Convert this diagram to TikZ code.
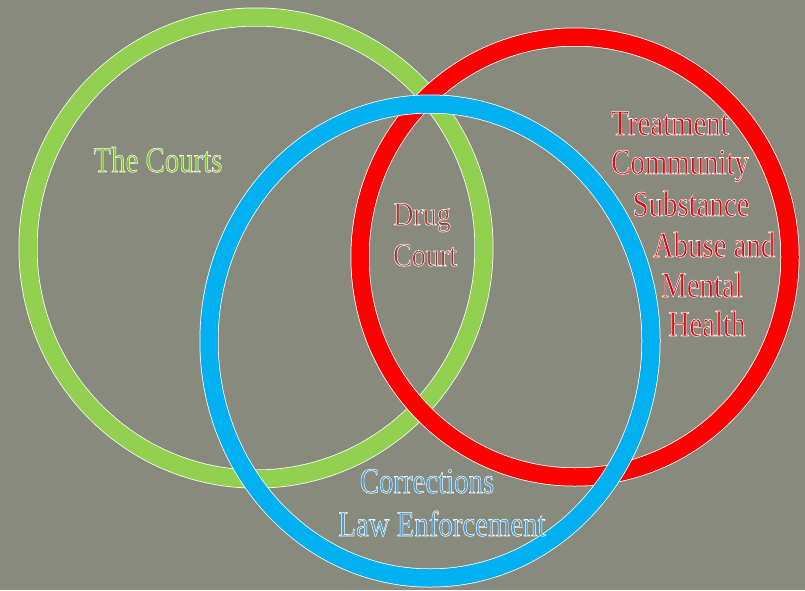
\documentclass[tikz,border=0pt]{standalone}
\usepackage{fontspec}
\setmainfont{Liberation Serif}
\usepackage{graphicx}
\definecolor{bgc}{RGB}{135,138,125}
\definecolor{ringgreen}{RGB}{146,208,80}
\definecolor{ringred}{RGB}{255,0,0}
\definecolor{ringblue}{RGB}{0,176,240}
\definecolor{txtgreen}{RGB}{130,195,50}
\definecolor{txtdrug}{RGB}{160,58,55}
\definecolor{txtred}{RGB}{228,8,22}
\definecolor{txtblue}{RGB}{80,158,205}
\newcommand\halotxt[3][0.8]{\begingroup\color{#2}%
\special{pdf:literal direct 1 1 1 RG 0.55 w 2 Tr}%
\scalebox{#1}[1]{#3}%
\special{pdf:literal direct 0 Tr}\endgroup}
\begin{document}
\begin{tikzpicture}[x=1pt,y=-1pt,
  ring/.style={line width=19pt,draw=white},
  lbl/.style={inner sep=0pt,anchor=base,font=\fontsize{36}{40}\selectfont}]
\useasboundingbox (0,0) rectangle (805,590);
\fill[bgc] (0,0) rectangle (805,590);
% green ring
\draw[ring] (256,248) ellipse [x radius=228,y radius=231];
\draw[line width=17.5pt,draw=ringgreen] (256,248) ellipse [x radius=228,y radius=231];
% red ring
\draw[ring] (575,257) ellipse [x radius=215,y radius=220];
\draw[line width=17.5pt,draw=ringred] (575,257) ellipse [x radius=215,y radius=220];
% blue ring
\draw[ring] (430,341) ellipse [x radius=221,y radius=237];
\draw[line width=17.5pt,draw=ringblue] (430,341) ellipse [x radius=221,y radius=237];
% labels
\node[lbl] (courts) at (158,172) {\halotxt{txtgreen}{The Courts}};
\node[lbl] (drug) at (422,225) {\halotxt[0.85]{txtdrug}{\fontsize{33}{38}\selectfont Drug}};
\node[lbl] (court) at (425,266) {\halotxt[0.85]{txtdrug}{\fontsize{33}{38}\selectfont Court}};
\node[lbl] (t1) at (670,135) {\halotxt{txtred}{Treatment}};
\node[lbl] (t2) at (680,174) {\halotxt{txtred}{Community}};
\node[lbl] (t3) at (691,216) {\halotxt{txtred}{Substance}};
\node[lbl] (t4) at (714,257) {\halotxt{txtred}{Abuse and}};
\node[lbl] (t5) at (702,297) {\halotxt{txtred}{Mental}};
\node[lbl] (t6) at (707,336) {\halotxt{txtred}{Health}};
\node[lbl] (corr) at (427,493) {\halotxt{txtblue}{Corrections}};
\node[lbl] (law) at (442,536) {\halotxt{txtblue}{Law Enforcement}};
\end{tikzpicture}
\end{document}
